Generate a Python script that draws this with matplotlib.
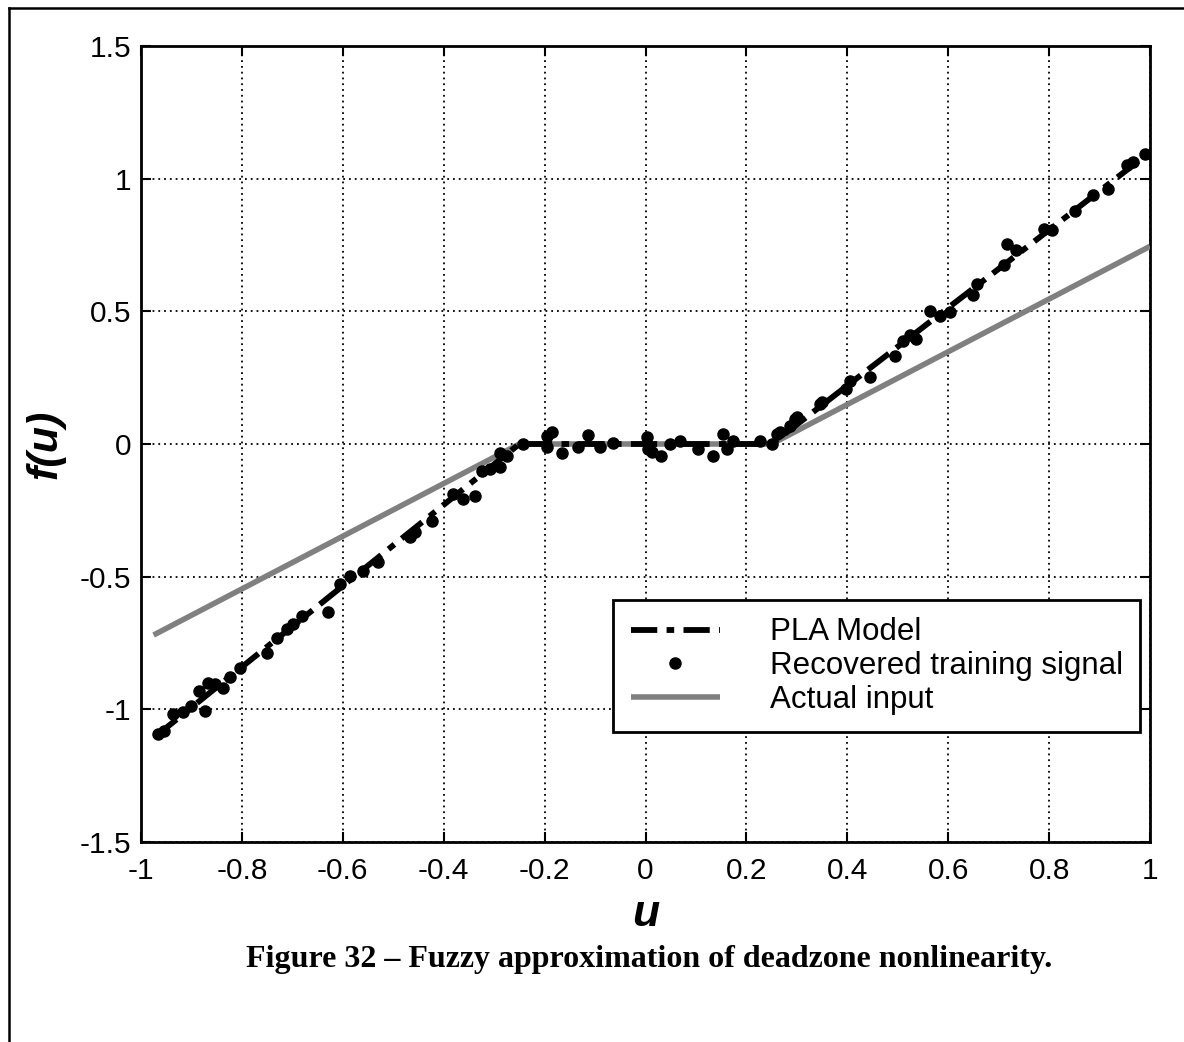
import matplotlib
matplotlib.use("Agg")
import matplotlib.pyplot as plt
from matplotlib.lines import Line2D
import numpy as np

# --- data -------------------------------------------------------------
# Actual deadzone input (breakpoints)
actual_u = [-0.975, -0.25, 0.25, 1.0]
actual_f = [-0.72, 0.0, 0.0, 0.745]

# PLA model (breakpoints)
pla_u = [-0.97, -0.25, 0.25, 1.0]
pla_f = [-1.10, 0.0, 0.0, 1.10]

# Recovered training signal samples
train_u = [-0.966, -0.955, -0.936, -0.916, -0.900, -0.873, -0.886, -0.867, -0.853,
           -0.837, -0.824, -0.804, -0.751, -0.731, -0.711, -0.698, -0.681, -0.629,
           -0.606, -0.586, -0.560, -0.530, -0.467, -0.457, -0.424, -0.381, -0.361,
           -0.338, -0.325, -0.308, -0.288, -0.275, -0.288, -0.243,
           -0.186, -0.196, -0.196, -0.166, -0.133, -0.113, -0.090, -0.064, 0.002,
           0.005, 0.012, 0.031, 0.048, 0.068, 0.104, 0.134, 0.154, 0.161, 0.174,
           0.227, 0.250,
           0.260, 0.266, 0.286, 0.296, 0.300, 0.346, 0.349, 0.398, 0.405, 0.445,
           0.494, 0.511, 0.524, 0.537, 0.564, 0.584, 0.604, 0.650, 0.657, 0.710,
           0.716, 0.735, 0.789, 0.805, 0.851, 0.888, 0.917, 0.954, 0.967, 0.990]
train_f = [-1.094, -1.080, -1.019, -1.011, -0.987, -1.006, -0.930, -0.900, -0.906,
           -0.918, -0.880, -0.843, -0.786, -0.730, -0.698, -0.679, -0.648, -0.635,
           -0.528, -0.497, -0.478, -0.446, -0.350, -0.333, -0.289, -0.189, -0.208,
           -0.195, -0.100, -0.094, -0.085, -0.044, -0.035, 0.000,
           0.044, 0.030, -0.013, -0.035, -0.010, 0.034, -0.013, 0.003, 0.025,
           -0.019, -0.031, -0.044, 0.000, 0.012, -0.019, -0.044, 0.038, -0.019, 0.012,
           0.012, 0.000,
           0.036, 0.044, 0.069, 0.094, 0.100, 0.150, 0.157, 0.208, 0.239, 0.252,
           0.333, 0.390, 0.409, 0.396, 0.503, 0.484, 0.497, 0.560, 0.604, 0.673,
           0.755, 0.730, 0.811, 0.805, 0.880, 0.937, 0.962, 1.050, 1.063, 1.094]

x_ticks = [-1, -0.8, -0.6, -0.4, -0.2, 0, 0.2, 0.4, 0.6, 0.8, 1]
x_labels = ["-1", "-0.8", "-0.6", "-0.4", "-0.2", "0", "0.2", "0.4", "0.6", "0.8", "1"]
y_ticks = [-1.5, -1, -0.5, 0, 0.5, 1, 1.5]
y_labels = ["-1.5", "-1", "-0.5", "0", "0.5", "1", "1.5"]

legend_labels = ["PLA Model", "Recovered training signal", "Actual input"]
caption = "Figure 32 \u2013 Fuzzy approximation of deadzone nonlinearity."

# --- figure -----------------------------------------------------------
plt.rcParams["font.family"] = ["Liberation Sans", "DejaVu Sans"]
W, H = 1184, 1042
fig = plt.figure(figsize=(W / 100, H / 100), dpi=100)

ax_l, ax_r, ax_t, ax_b = 141, 1150, 46, 842
ax = fig.add_axes([ax_l / W, 1 - ax_b / H, (ax_r - ax_l) / W, (ax_b - ax_t) / H])

ax.plot(actual_u, actual_f, color="0.5", lw=4.0, solid_capstyle="butt",
        label=legend_labels[2], zorder=3)
ax.plot(pla_u, pla_f, color="black", lw=4.2, linestyle=(0, (4.5, 1.6, 1.3, 1.6)),
        dash_capstyle="butt", label=legend_labels[0], zorder=4)
ax.plot(train_u, train_f, linestyle="none", marker="o", ms=8, color="black",
        label=legend_labels[1], zorder=5)

ax.set_xlim(-1, 1)
ax.set_ylim(-1.5, 1.5)
ax.set_xticks(x_ticks)
ax.set_xticklabels(x_labels)
ax.set_yticks(y_ticks)
ax.set_yticklabels(y_labels)
ax.tick_params(direction="in", length=7, width=1.5, top=True, right=True,
               labelsize=21.5)
ax.tick_params(axis="x", pad=11)
ax.tick_params(axis="y", pad=7)
ax.grid(True, color="black", linestyle=(0, (1, 2.2)), lw=1.3)
ax.set_axisbelow(True)
for s in ax.spines.values():
    s.set_linewidth(2.0)

ax.set_xlabel("u", fontsize=32, fontweight="bold", fontstyle="italic", labelpad=6)
ax.set_ylabel("f(u)", fontsize=31, fontweight="bold", fontstyle="italic", labelpad=10)

h, l = ax.get_legend_handles_labels()
order = [1, 2, 0]
leg = ax.legend([h[i] for i in order], [l[i] for i in order],
                loc="lower right", bbox_to_anchor=(0.990, 0.138),
                borderaxespad=0, fontsize=22.5, handlelength=2.85,
                handletextpad=1.6, borderpad=0.55, labelspacing=0.12,
                fancybox=False, framealpha=1, edgecolor="black")
leg.get_frame().set_linewidth(2.0)

fig.text(649 / W, 1 - 960 / H, caption, ha="center", va="center",
         fontsize=23, fontweight="bold", family="Liberation Serif")

# page frame
fig.add_artist(Line2D([8.5 / W, 8.5 / W], [0, 1 - 7.5 / H], transform=fig.transFigure,
                      color="black", lw=1.8))
fig.add_artist(Line2D([8.5 / W, 1], [1 - 7.5 / H, 1 - 7.5 / H], transform=fig.transFigure,
                      color="black", lw=1.8))

fig.savefig("out.png", dpi=100, facecolor="white")
